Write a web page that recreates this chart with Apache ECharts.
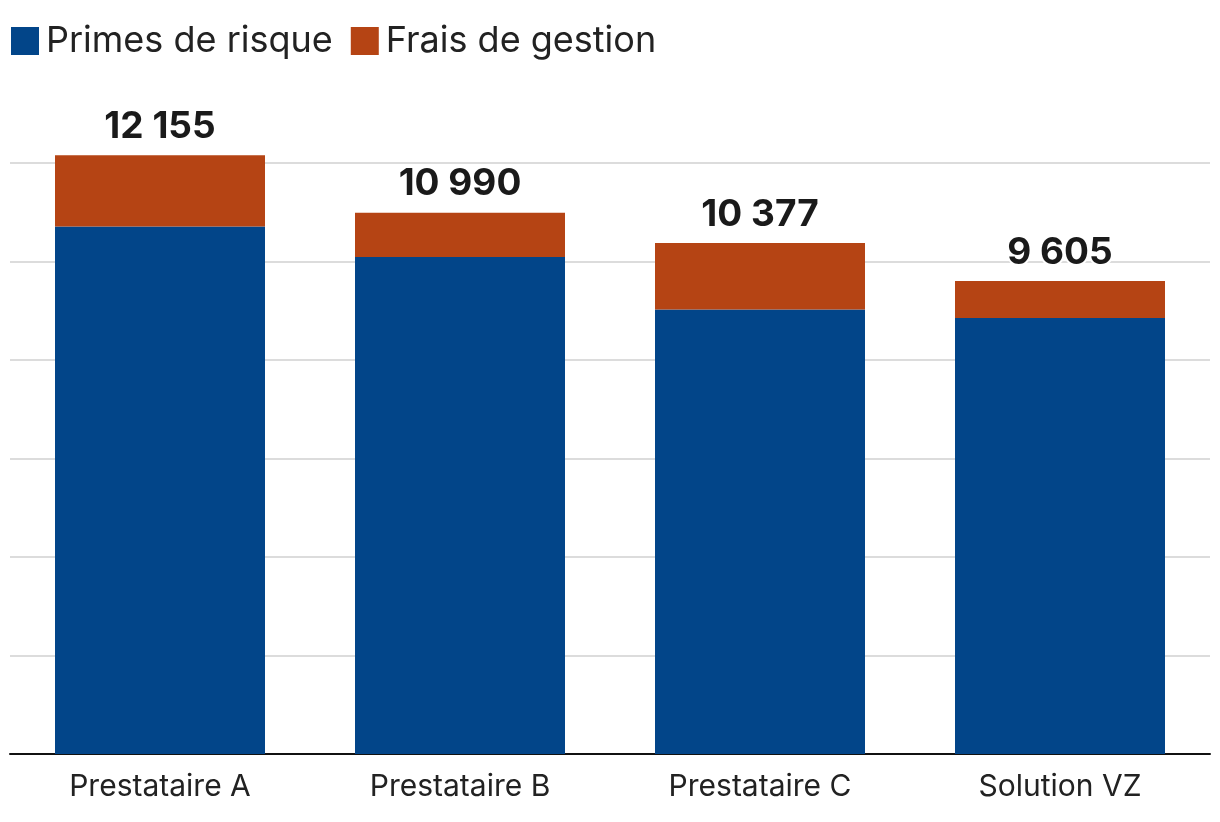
<!DOCTYPE html>
<html>
<head>
<meta charset="utf-8">
<script src="https://cdn.jsdelivr.net/npm/echarts@6/dist/echarts.min.js"></script>
<style>html,body{margin:0;padding:0;background:#fff}#c{width:1220px;height:822px}</style>
</head>
<body>
<div id="c"></div>
<script>
const categories = ['Prestataire A', 'Prestataire B', 'Prestataire C', 'Solution VZ'];
const primesRisque = [10710, 10090, 9025, 8853];
const fraisGestion = [1445, 900, 1352, 752];
const seriesNames = ['Primes de risque', 'Frais de gestion'];
const totals = primesRisque.map((v, i) => v + fraisGestion[i]);

function fmt(n) { return String(n).replace(/\B(?=(\d{3})+(?!\d))/g, ' '); }

const chart = echarts.init(document.getElementById('c'));
chart.setOption({
  backgroundColor: '#fff',
  textStyle: { fontFamily: 'Inter' },
  legend: {
    left: 6, top: 18,
    itemWidth: 28, itemHeight: 28, itemGap: 18,
    icon: 'rect',
    textStyle: { fontSize: 36, color: '#222', fontFamily: 'Inter', padding: [0, 0, 0, 2] },
    data: seriesNames
  },
  grid: { left: 10, right: 10, top: 163, bottom: 68, containLabel: false },
  xAxis: {
    type: 'category', data: categories,
    axisLine: { lineStyle: { color: '#111', width: 2 } },
    axisTick: { show: false },
    axisLabel: { fontSize: 30, color: '#222', margin: 18, fontFamily: 'Inter' }
  },
  yAxis: {
    type: 'value', min: 0, max: 12000, interval: 2000,
    axisLabel: { show: false }, axisLine: { show: false }, axisTick: { show: false },
    splitLine: { lineStyle: { color: '#d0d0d0', width: 1.5 } }
  },
  series: [
    {
      name: seriesNames[0], type: 'bar', stack: 'total', data: primesRisque,
      barWidth: '70%', clip: false,
      itemStyle: { color: '#024589' }
    },
    {
      name: seriesNames[1], type: 'bar', stack: 'total', data: fraisGestion,
      barWidth: '70%', clip: false,
      itemStyle: { color: '#B54414' },
      label: {
        show: true, position: 'top', distance: 10,
        formatter: p => fmt(totals[p.dataIndex]),
        fontSize: 37, fontWeight: 'bold', color: '#1a1a1a', fontFamily: 'Inter',
        textBorderColor: '#fff', textBorderWidth: 4
      }
    }
  ]
});
</script>
</body>
</html>
